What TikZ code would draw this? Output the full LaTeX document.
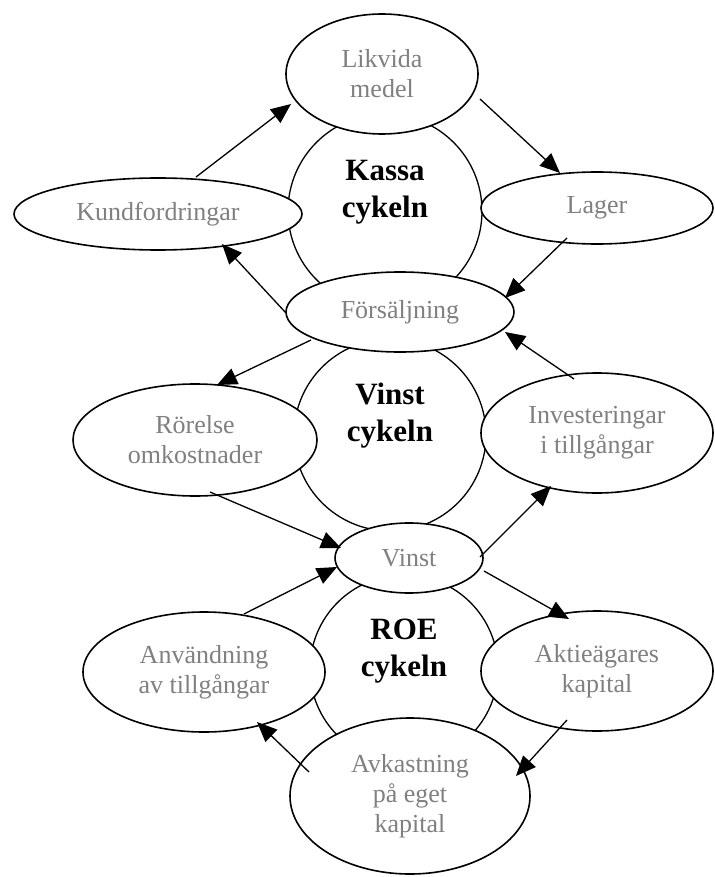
\documentclass[tikz,border=0pt]{standalone}
\usepackage{fontspec}
\setmainfont{Liberation Serif}
\usetikzlibrary{shapes.geometric,arrows.meta,calc}
\definecolor{txtgray}{RGB}{128,128,128}
\begin{document}
\begin{tikzpicture}[x=1pt,y=-1pt,
  ell/.style={draw,ellipse,fill=white,line width=1.6pt,inner sep=0pt,outer sep=0pt,
    text=txtgray,font=\fontsize{26}{30}\selectfont,align=center},
  cyc/.style={draw,circle,line width=1.3pt,inner sep=0pt,outer sep=0pt},
  ctext/.style={font=\fontsize{31}{37}\selectfont\bfseries,align=center,inner sep=0pt},
  arr/.style={-{Triangle[length=20pt,width=17pt]},line width=1.3pt}]
\useasboundingbox (0,0) rectangle (714,877);
% cycle circles
\node[cyc,minimum size=194] (kassa) at (385,211) {};
\node[cyc,minimum size=192] (vinstc) at (390,435) {};
\node[cyc,minimum size=188] (roec) at (404,669) {};
\node[ctext] (kassat) at (385,192) {Kassa\\cykeln};
\node[ctext] (vinstt) at (390,416) {Vinst\\cykeln};
\node[ctext] (roet) at (404,651) {ROE\\cykeln};
% ellipses
\node[ell,minimum width=192,minimum height=120] (likv) at (382,74) {Likvida\\medel};
\node[ell,minimum width=288,minimum height=72] (kund) at (158,214) {Kundfordringar};
\node[ell,minimum width=232,minimum height=72] (lager) at (597,208) {Lager};
\node[ell,minimum width=228,minimum height=80] (fors) at (400,312) {Försäljning};
\node[ell,minimum width=244,minimum height=112] (ror) at (195,440) {Rörelse\\omkostnader};
\node[ell,minimum width=232,minimum height=120] (inv) at (597,433) {Investeringar\\i tillgångar};
\node[ell,minimum width=148,minimum height=70] (vinst) at (409,558) {Vinst};
\node[ell,minimum width=242,minimum height=120] (anv) at (204,672) {Användning\\av tillgångar};
\node[ell,minimum width=232,minimum height=120] (akt) at (597,671) {Aktieägares\\kapital};
\node[ell,minimum width=240,minimum height=156] (avk) at (410,796) {Avkastning\\på eget\\kapital};
% arrows
\draw[arr] ($(kund)+(38,-37)$) -- ($(likv)+(-91,30)$);
\draw[arr] ($(likv)+(98,25)$) -- ($(lager)+(-37,-35)$);
\draw[arr] ($(lager)+(-30,30)$) -- ($(fors)+(105,-14)$);
\draw[arr] ($(fors)+(-114,1)$) -- ($(kund)+(64,30)$);
\draw[arr] ($(fors)+(-89,28)$) -- ($(ror)+(22,-55)$);
\draw[arr] ($(inv)+(-23,-54)$) -- ($(fors)+(105,20)$);
\draw[arr] ($(ror)+(15,52)$) -- ($(vinst)+(-68,-10)$);
\draw[arr] ($(vinst)+(71,-1)$) -- ($(inv)+(-46,53)$);
\draw[arr] ($(anv)+(40,-58)$) -- ($(vinst)+(-72,9)$);
\draw[arr] ($(vinst)+(75,13)$) -- ($(akt)+(-28,-52)$);
\draw[arr] ($(avk)+(-101,-24)$) -- ($(anv)+(53,50)$);
\draw[arr] ($(akt)+(-30,49)$) -- ($(avk)+(106,-20)$);
\end{tikzpicture}
\end{document}
